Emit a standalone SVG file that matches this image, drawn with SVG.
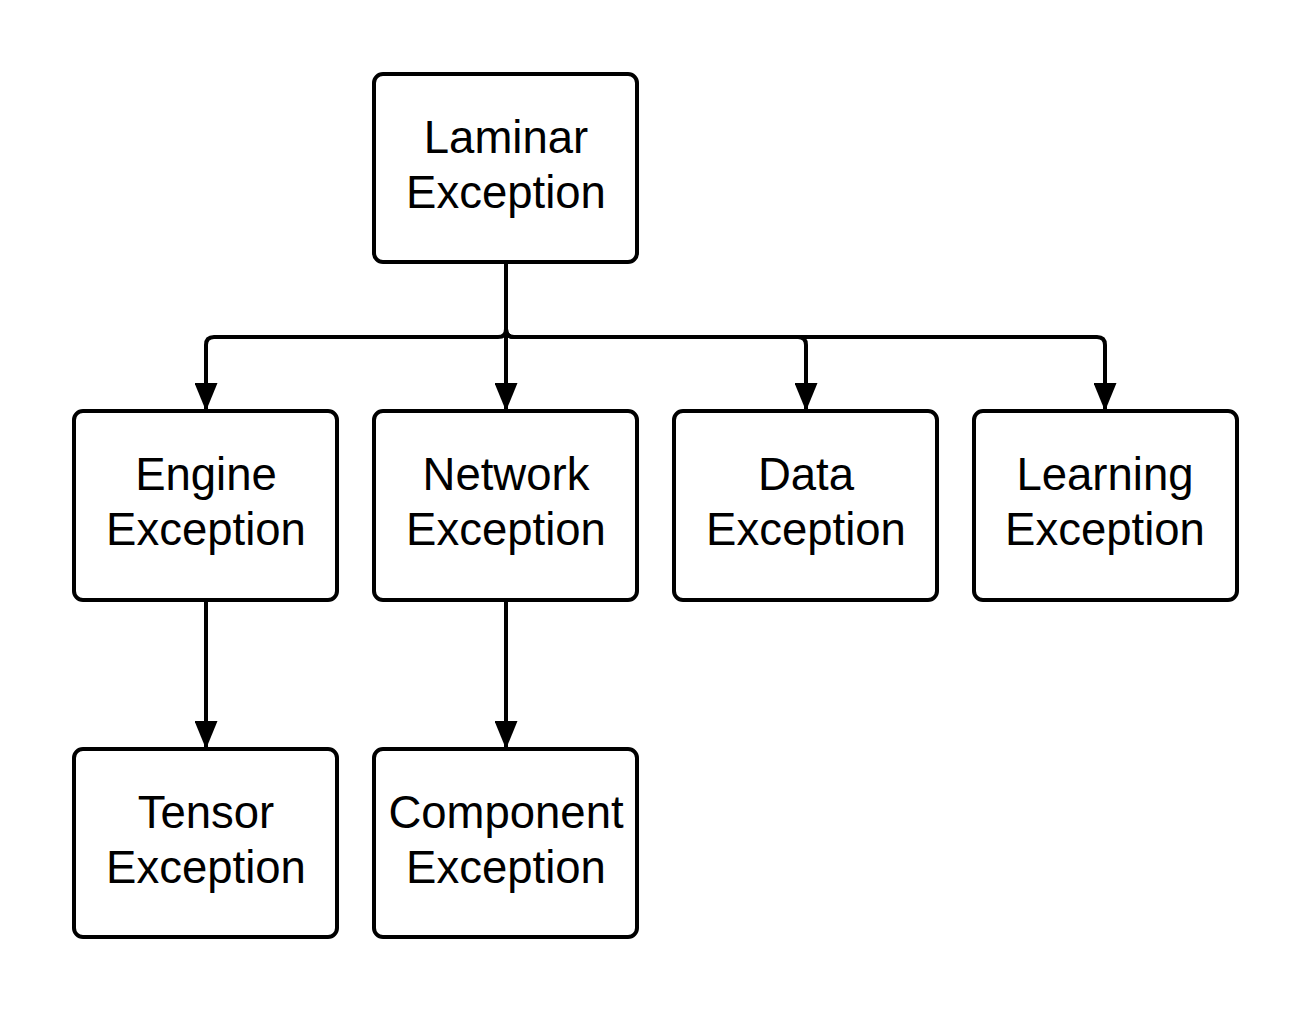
<svg xmlns="http://www.w3.org/2000/svg" width="1313" height="1013" viewBox="0 0 1313 1013">
<style>
.box{fill:#fff;stroke:#000;stroke-width:4}
.lbl{font-family:"Liberation Sans",Arial,sans-serif;font-size:45.5px;fill:#000;text-anchor:middle}
.edge{fill:none;stroke:#000;stroke-width:4}
</style>
<defs>
<marker id="arr" markerUnits="userSpaceOnUse" markerWidth="28" markerHeight="23" refX="28" refY="11.5" orient="auto" viewBox="0 0 28 23">
<path d="M0,0 L28,11.5 L0,23 Z" fill="#000"/>
</marker>
</defs>
<rect width="1313" height="1013" fill="#fff"/>
<g id="connectors">
<path class="edge" d="M506,262 V329 Q506,337 498,337 H214 Q206,337 206,345 V411" marker-end="url(#arr)"/>
<path class="edge" d="M506,262 V411" marker-end="url(#arr)"/>
<path class="edge" d="M506,262 V329 Q506,337 514,337 H798 Q806,337 806,345 V411" marker-end="url(#arr)"/>
<path class="edge" d="M506,262 V329 Q506,337 514,337 H1097 Q1105,337 1105,345 V411" marker-end="url(#arr)"/>
<path class="edge" d="M206,600 V749" marker-end="url(#arr)"/>
<path class="edge" d="M506,600 V749" marker-end="url(#arr)"/>
</g>
<g id="laminar"><rect class="box" x="374" y="74" width="263" height="188" rx="9"/><text class="lbl" x="506" y="153">Laminar</text><text class="lbl" x="506" y="208">Exception</text></g>
<g id="engine"><rect class="box" x="74" y="411" width="263" height="189" rx="9"/><text class="lbl" x="206" y="490">Engine</text><text class="lbl" x="206" y="545">Exception</text></g>
<g id="network"><rect class="box" x="374" y="411" width="263" height="189" rx="9"/><text class="lbl" x="506" y="490">Network</text><text class="lbl" x="506" y="545">Exception</text></g>
<g id="data"><rect class="box" x="674" y="411" width="263" height="189" rx="9"/><text class="lbl" x="806" y="490">Data</text><text class="lbl" x="806" y="545">Exception</text></g>
<g id="learning"><rect class="box" x="974" y="411" width="263" height="189" rx="9"/><text class="lbl" x="1105" y="490">Learning</text><text class="lbl" x="1105" y="545">Exception</text></g>
<g id="tensor"><rect class="box" x="74" y="749" width="263" height="188" rx="9"/><text class="lbl" x="206" y="828">Tensor</text><text class="lbl" x="206" y="883">Exception</text></g>
<g id="component"><rect class="box" x="374" y="749" width="263" height="188" rx="9"/><text class="lbl" x="506" y="828">Component</text><text class="lbl" x="506" y="883">Exception</text></g>
</svg>
